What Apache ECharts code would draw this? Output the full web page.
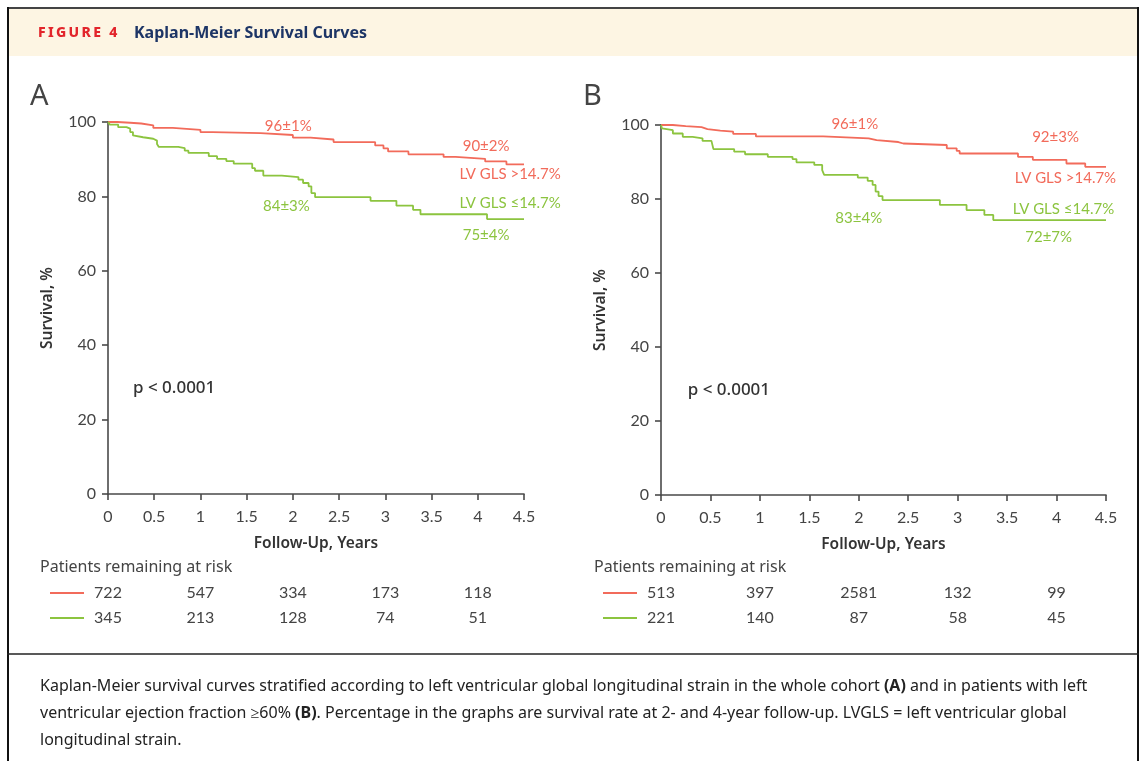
<!DOCTYPE html>
<html><head><meta charset="utf-8">
<script src="https://cdn.jsdelivr.net/npm/echarts@6/dist/echarts.min.js"></script>
<style>html,body{margin:0;padding:0;background:#fff}#c{width:1142px;height:761px}</style>
</head><body><div id="c"></div>
<script>
// ---------- DATA ----------
const xTickYears = [0, 1, 2, 3, 4];           // years where risk numbers sit
// Panel A
const aRedT   = [0, 0.1, 0.24, 0.36, 0.49, 0.7, 1.0, 1.13, 1.65, 2.0, 2.19, 2.44, 2.89, 2.98, 3.03, 3.25, 3.63, 3.76, 4.08, 4.31, 4.5];
const aRedS   = [100, 99.8, 99.6, 99.1, 98.4, 97.9, 97.3, 97.0, 96.5, 95.8, 95.3, 94.6, 93.7, 92.9, 92.1, 91.3, 90.6, 90.1, 89.4, 88.6, 88.6];
const aGreenT = [0, 0.02, 0.11, 0.2, 0.24, 0.27, 0.29, 0.38, 0.49, 0.53, 0.55, 0.76, 0.83, 0.87, 1.09, 1.18, 1.28, 1.36, 1.56, 1.59, 1.68, 1.88, 2.06, 2.11, 2.17, 2.2, 2.24, 2.84, 3.12, 3.3, 3.38, 4.1, 4.5];
const aGreenS = [100, 99.3, 98.6, 98.2, 97.3, 96.4, 95.9, 95.5, 95.0, 94.1, 93.3, 93.0, 92.3, 91.7, 90.8, 90.1, 89.5, 88.8, 87.6, 86.9, 85.6, 85.2, 84.5, 83.6, 82.7, 80.9, 79.8, 78.8, 77.5, 76.4, 75.2, 73.9, 73.9];
// Panel B
const bRedT   = [0, 0.12, 0.25, 0.41, 0.47, 0.6, 0.73, 0.96, 1.64, 2.1, 2.18, 2.4, 2.45, 2.89, 2.99, 3.02, 3.61, 3.76, 4.1, 4.29, 4.5];
const bRedS   = [100, 99.7, 99.4, 98.9, 98.5, 98.2, 97.6, 96.9, 96.4, 95.9, 95.4, 95.0, 94.6, 93.7, 93.0, 92.3, 91.4, 90.6, 89.6, 88.7, 88.7];
const bGreenT = [0, 0.01, 0.03, 0.12, 0.22, 0.32, 0.42, 0.51, 0.53, 0.74, 0.85, 1.08, 1.33, 1.37, 1.55, 1.63, 1.65, 1.99, 2.09, 2.14, 2.17, 2.2, 2.24, 2.82, 3.09, 3.27, 3.36, 4.5];
const bGreenS = [100, 99.1, 98.6, 97.7, 96.8, 96.4, 95.7, 95.3, 93.5, 92.8, 92.1, 91.4, 90.8, 89.9, 89.2, 87.8, 86.5, 85.8, 84.9, 83.8, 82.0, 80.8, 79.7, 78.4, 77.0, 75.7, 74.3, 74.3];
// Patients at risk
const aRiskRed   = [722, 547, 334, 173, 118];
const aRiskGreen = [345, 213, 128, 74, 51];
const bRiskRed   = [513, 397, 2581, 132, 99];
const bRiskGreen = [221, 140, 87, 58, 45];
// Annotation texts
const aAnnTexts = ['96±1%', '90±2%', 'LV GLS >14.7%', '84±3%', 'LV GLS ≤14.7%', '75±4%'];
const bAnnTexts = ['96±1%', '92±3%', 'LV GLS >14.7%', '83±4%', 'LV GLS ≤14.7%', '72±7%'];
const pText = 'p < 0.0001';
const panelLetters = ['A', 'B'];
const figLabel = 'FIGURE 4';
const figTitle = 'Kaplan-Meier Survival Curves';
const riskTitle = 'Patients remaining at risk';
const xName = 'Follow-Up, Years';
const yName = 'Survival, %';

// ---------- STYLE / LAYOUT ----------
const RED = '#f26b5b', GREEN = '#8cc43f', AX = '#4a4a4a', TX = '#444';
const FONT = 'Lato', WFONT = '"Noto Sans"';
const pairs = (t, s) => t.map((v, i) => [v, s[i]]);

const chart = echarts.init(document.getElementById('c'), null, {renderer: 'canvas'});

function xAx(g) {
  return {gridIndex: g, type: 'value', min: 0, max: 4.5, interval: 0.5,
    axisLine: {show: true, onZero: false, lineStyle: {color: AX, width: 1.6}},
    axisTick: {show: true, length: 6, lineStyle: {color: AX, width: 1.6}},
    axisLabel: {margin: 15, fontSize: 16, color: TX, fontFamily: FONT},
    splitLine: {show: false},
    name: xName, nameLocation: 'middle', nameGap: 42,
    nameTextStyle: {fontSize: 15.5, fontWeight: 600, color: '#333', fontFamily: WFONT}};
}
function yAx(g) {
  return {gridIndex: g, type: 'value', min: 0, max: 100, interval: 20,
    axisLine: {show: true, onZero: false, lineStyle: {color: AX, width: 1.6}},
    axisTick: {show: true, length: 6, lineStyle: {color: AX, width: 1.6}},
    axisLabel: {margin: 12, fontSize: 16, color: TX, fontFamily: FONT},
    splitLine: {show: false},
    name: yName, nameLocation: 'middle', nameGap: 52,
    nameTextStyle: {fontSize: 15.5, fontWeight: 600, color: '#333', fontFamily: WFONT}};
}
function ser(g, t, s, c) {
  return {type: 'line', xAxisIndex: g, yAxisIndex: g, step: 'end', data: pairs(t, s),
    symbol: 'none', lineStyle: {color: c, width: 1.8}, silent: true, animation: false};
}

chart.setOption({
  animation: false,
  grid: [
    {left: 108, top: 122, width: 416, height: 372},
    {left: 661, top: 125, width: 445, height: 370}
  ],
  xAxis: [xAx(0), xAx(1)],
  yAxis: [yAx(0), yAx(1)],
  series: [
    ser(0, aRedT, aRedS, RED), ser(0, aGreenT, aGreenS, GREEN),
    ser(1, bRedT, bRedS, RED), ser(1, bGreenT, bGreenS, GREEN)
  ]
});

// ---------- TEXT & DECORATION (positioned through the axes) ----------
const g = [];
g.push({type: 'rect', shape: {x: 8, y: 8, width: 1130, height: 48}, style: {fill: '#fdf5e3'}, silent: true});
g.push({type: 'line', shape: {x1: 7, y1: 8, x2: 1139, y2: 8}, style: {stroke: '#444', lineWidth: 2}});
g.push({type: 'line', shape: {x1: 8, y1: 7, x2: 8, y2: 761}, style: {stroke: '#111', lineWidth: 2}});
g.push({type: 'line', shape: {x1: 1138, y1: 7, x2: 1138, y2: 761}, style: {stroke: '#111', lineWidth: 2}});
g.push({type: 'line', shape: {x1: 7, y1: 654, x2: 1139, y2: 654}, style: {stroke: '#222', lineWidth: 1.5}});
g.push({type: 'text', x: 38, y: 33, style: {text: figLabel.split('').join('\u2009'), fill: '#e2252b',
  font: '800 14px ' + WFONT, verticalAlign: 'middle'}});
g.push({type: 'text', x: 134, y: 33, style: {text: figTitle, fill: '#1d3566',
  font: 'bold 16px ' + WFONT, verticalAlign: 'middle'}});

const annAnchors = [[1.95, 98.8], [4.09, 93.4], [4.35, 86.1], [1.93, 77.5], [4.35, 78.3], [4.09, 69.7]];
const annAnchorsB = [[1.96, 100.3], [3.99, 96.8], [4.09, 85.7], [2.0, 74.9], [4.07, 77.3], [3.92, 69.7]];
const annColors = [RED, RED, RED, GREEN, GREEN, GREEN];

const panels = [
  {gi: 0, texts: aAnnTexts, anchors: annAnchors, risk: [aRiskRed, aRiskGreen], left: 40, letterX: 30, lineX: [50, 84]},
  {gi: 1, texts: bAnnTexts, anchors: annAnchorsB, risk: [bRiskRed, bRiskGreen], left: 594, letterX: 583, lineX: [603, 637]}
];
panels.forEach((p, pi) => {
  g.push({type: 'text', x: p.letterX, y: 97, style: {text: panelLetters[pi], fill: '#444',
    font: '29px ' + WFONT, verticalAlign: 'middle'}});
  p.texts.forEach((t, i) => {
    const pt = chart.convertToPixel({gridIndex: p.gi}, p.anchors[i]);
    g.push({type: 'text', x: pt[0], y: pt[1], style: {text: t, fill: annColors[i],
      font: '15px ' + FONT, align: 'center', verticalAlign: 'middle'}});
  });
  const pp = chart.convertToPixel({gridIndex: p.gi}, [0.27, 28.4]);
  g.push({type: 'text', x: pp[0], y: pp[1], style: {text: pText, fill: '#333',
    font: '500 17px ' + WFONT, verticalAlign: 'middle'}});
  g.push({type: 'text', x: p.left, y: 567, style: {text: riskTitle, fill: TX,
    font: '16px ' + WFONT, verticalAlign: 'middle'}});
  const rowY = [593, 618];
  [RED, GREEN].forEach((c, r) => {
    g.push({type: 'line', shape: {x1: p.lineX[0], y1: rowY[r], x2: p.lineX[1], y2: rowY[r]},
      style: {stroke: c, lineWidth: 1.8}});
    p.risk[r].forEach((v, k) => {
      const x = chart.convertToPixel({xAxisIndex: p.gi}, xTickYears[k]);
      g.push({type: 'text', x: x, y: rowY[r], style: {text: String(v), fill: TX,
        font: '16px ' + FONT, align: 'center', verticalAlign: 'middle'}});
    });
  });
});

// caption
const capLines = [
  'Kaplan-Meier survival curves stratified according to left ventricular global longitudinal strain in the whole cohort {b|(A)} and in patients with left',
  'ventricular ejection fraction \u226560% {b|(B)}. Percentage in the graphs are survival rate at 2- and 4-year follow-up. LVGLS = left ventricular global',
  'longitudinal strain.'
];
capLines.forEach((t, i) => {
  g.push({type: 'text', x: 40, y: 686 + i * 27, style: {text: t, fill: '#222', font: '16px ' + WFONT,
    verticalAlign: 'middle', rich: {b: {fontWeight: 'bold', fontSize: 16, fontFamily: 'Noto Sans', fill: '#222'}}}});
});

chart.setOption({graphic: g});
</script>
</body></html>
